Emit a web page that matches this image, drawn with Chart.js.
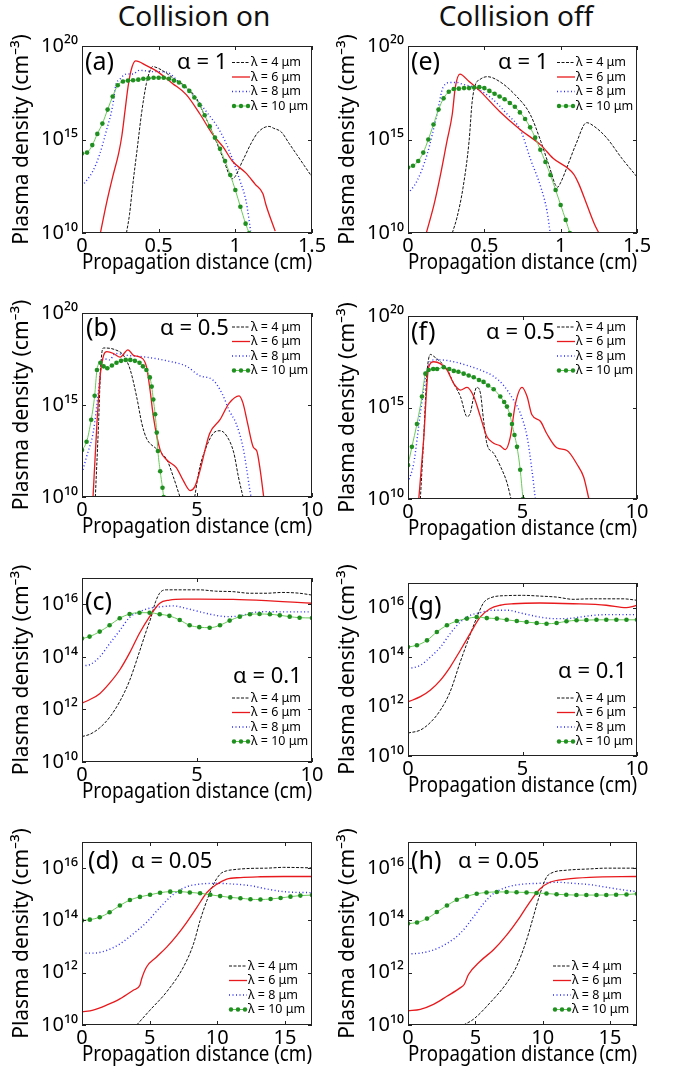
<!DOCTYPE html>
<html>
<head>
<meta charset="utf-8">
<script src="https://cdn.jsdelivr.net/npm/chart.js@4.4.0/dist/chart.umd.min.js"></script>
<style>
body { margin: 0; background: #fff; width: 678px; height: 1078px; position: relative; overflow: hidden; font-family: 'Noto Sans', sans-serif; }
.ttl { position: absolute; font-size: 28px; color: #111; transform: translateX(-50%); white-space: nowrap; }
canvas { position: absolute; }
</style>
</head>
<body>
<div class="ttl" style="left:194px;top:-4px">Collision on</div>
<div class="ttl" style="left:516px;top:-4px">Collision off</div>
<canvas id="pa"></canvas><canvas id="pe"></canvas>
<canvas id="pb"></canvas><canvas id="pf"></canvas>
<canvas id="pc"></canvas><canvas id="pg"></canvas>
<canvas id="pd"></canvas><canvas id="ph"></canvas>
<script>
// each point: [propagation distance (cm), log10 of plasma density (cm^-3)]
// null = curve leaves the plot (below 1e10)

// (a) collision on, alpha = 1
const a4 = [[0.29,10],[0.31,11],[0.33,12.5],[0.36,14.5],[0.39,16.5],[0.42,18],[0.44,18.6],[0.46,18.9],[0.5,18.8],[0.55,18.55],[0.6,18.25],[0.68,17.8],[0.75,17.15],[0.79,16.45],[0.85,15.4],[0.92,14.0],[0.98,12.9],[1.05,13.9],[1.1,14.75],[1.15,15.4],[1.22,15.7],[1.25,15.6],[1.3,15.4],[1.35,14.8],[1.4,14.2],[1.45,13.6],[1.5,13.0]];
const a6 = [[0.12,10],[0.16,11.6],[0.2,13],[0.24,14.3],[0.26,15.2],[0.28,16.5],[0.3,17.8],[0.32,18.7],[0.35,19.2],[0.42,18.95],[0.485,18.67],[0.59,18.0],[0.68,17.4],[0.77,16.35],[0.85,15.3],[0.92,14.6],[0.98,13.85],[1.07,13.2],[1.13,12.6],[1.18,12.1],[1.2,11.5],[1.26,10.1]];
const a8 = [[0,12.5],[0.07,13.3],[0.115,14.2],[0.16,15.5],[0.2,16.8],[0.22,17.9],[0.245,18.2],[0.29,18.5],[0.33,18.5],[0.375,18.7],[0.46,18.63],[0.55,18.6],[0.64,18.0],[0.72,17.4],[0.81,16.5],[0.9,15.45],[0.96,14.4],[1.03,12.8],[1.07,11.7],[1.1,10.1]];
const a10 = [[0,14.25],[0.033,14.3],[0.067,14.7],[0.1,15.3],[0.133,15.85],[0.167,16.6],[0.2,17.3],[0.233,17.9],[0.267,18.1],[0.3,18.15],[0.333,18.17],[0.367,18.2],[0.4,18.25],[0.433,18.27],[0.467,18.3],[0.5,18.3],[0.533,18.3],[0.567,18.25],[0.6,18.15],[0.633,18.05],[0.667,17.85],[0.7,17.6],[0.733,17.25],[0.767,16.85],[0.8,16.3],[0.833,15.7],[0.867,15.1],[0.9,14.5],[0.933,13.85],[0.967,13.1],[1.0,12.3],[1.033,11.4],[1.067,10.5],[1.09,10.0]];

// (e) collision off, alpha = 1
const e4 = [[0.29,10],[0.32,10.8],[0.36,12.4],[0.4,14.9],[0.42,17.0],[0.44,17.9],[0.47,18.2],[0.52,18.36],[0.6,18.1],[0.7,17.4],[0.8,16.35],[0.87,14.9],[0.92,13.7],[0.98,12.45],[1.0,12.7],[1.05,13.7],[1.1,14.75],[1.17,15.9],[1.22,15.7],[1.3,15.1],[1.4,14.0],[1.5,13.0]];
const e6 = [[0.12,10],[0.17,11.5],[0.21,13.0],[0.255,14.9],[0.29,16.35],[0.31,17.8],[0.34,18.5],[0.4,18.1],[0.47,17.6],[0.6,16.5],[0.74,15.5],[0.87,14.7],[0.95,14.0],[1.085,13.15],[1.12,12.6],[1.17,11.55],[1.22,10.5],[1.25,10]];
const e8 = [[0,12.1],[0.06,12.8],[0.125,14.2],[0.19,16.35],[0.23,17.8],[0.28,18.05],[0.32,18.05],[0.36,17.95],[0.43,17.8],[0.54,17.25],[0.65,16.35],[0.74,15.45],[0.8,14.0],[0.87,12.45],[0.91,11.2],[0.93,10.1]];
const e10 = [[0,13.5],[0.033,13.6],[0.067,13.85],[0.1,14.3],[0.133,15.0],[0.167,15.8],[0.2,16.6],[0.233,17.2],[0.267,17.55],[0.3,17.7],[0.333,17.72],[0.367,17.75],[0.4,17.75],[0.433,17.78],[0.467,17.8],[0.5,17.75],[0.533,17.6],[0.567,17.45],[0.6,17.3],[0.633,17.15],[0.667,16.95],[0.7,16.75],[0.733,16.45],[0.767,16.1],[0.8,15.65],[0.833,15.1],[0.867,14.45],[0.9,13.8],[0.933,13.1],[0.967,12.3],[1.0,11.5],[1.033,10.7],[1.06,10.0]];

// (b) collision on, alpha = 0.5
const b4 = [[0.58,10],[0.72,14.0],[0.8,16.7],[0.87,17.9],[0.94,18.1],[1.45,18.0],[1.8,17.7],[2.1,16.9],[2.4,15.3],[2.6,14.0],[2.8,13.2],[3.25,12.6],[3.7,12.0],[3.97,11.1],[4.26,10],[4.6,null],[4.9,10],[5.1,11.5],[5.4,12.7],[5.7,13.45],[6.0,13.6],[6.3,13.3],[6.6,12.4],[6.8,11.1],[7.0,10]];
const b6 = [[0.48,10],[0.65,14],[0.8,16.7],[0.94,17.7],[1.08,17.9],[1.37,17.8],[1.66,17.6],[2.0,18.0],[2.24,17.7],[2.53,17.6],[2.8,17.1],[2.96,15.8],[3.1,14.4],[3.4,12.55],[3.7,12.0],[4.1,11.6],[4.4,10.9],[4.7,10.35],[4.9,10.55],[5.1,11.3],[5.55,13.45],[6.0,14.2],[6.4,15.1],[6.83,15.5],[7.0,15.1],[7.2,14.0],[7.45,12.7],[7.6,12.5],[7.75,11.45],[7.9,10]];
const b8 = [[0,11.3],[0.2,12.2],[0.5,13.6],[0.72,15.8],[0.87,17.45],[1.0,17.5],[1.2,17.45],[1.45,17.8],[1.95,17.7],[2.8,17.6],[3.7,17.4],[4.55,17.1],[5.1,16.6],[5.7,16.35],[6.1,15.6],[6.4,14.7],[6.7,14.0],[7.0,12.7],[7.15,11.6],[7.3,10.35],[7.35,10]];
const b10 = [[0,12.55],[0.2,13.0],[0.4,14.2],[0.55,15.5],[0.65,16.9],[0.8,17.3],[0.94,17.1],[1.1,17.0],[1.3,17.15],[1.5,17.3],[1.7,17.4],[1.9,17.45],[2.1,17.45],[2.3,17.4],[2.5,17.3],[2.65,17.1],[2.8,16.9],[2.95,16.5],[3.03,16.0],[3.1,15.3],[3.18,14.5],[3.25,13.5],[3.3,12.5],[3.4,11.4],[3.5,10.5],[3.55,10]];

// (f) collision off, alpha = 0.5
const f4 = [[0.54,10],[0.68,13.2],[0.83,16.9],[0.98,17.9],[1.12,17.8],[1.41,17.5],[1.7,17.1],[2.0,16.3],[2.29,15.6],[2.58,14.5],[2.72,14.7],[2.87,15.6],[3.0,16.1],[3.16,15.8],[3.3,14.3],[3.45,13.0],[3.74,12.5],[4.03,11.8],[4.32,10.9],[4.5,10]];
const f6 = [[0.47,10],[0.68,13.2],[0.9,17.2],[1.12,17.5],[1.41,17.4],[1.7,17.05],[2.0,16.3],[2.29,15.95],[2.58,16.1],[2.87,15.6],[3.16,14.5],[3.45,13.4],[3.74,13.05],[4.03,12.9],[4.25,12.7],[4.47,13.4],[4.69,15.2],[4.98,16.1],[5.2,15.6],[5.41,14.6],[5.78,14.25],[6.07,13.55],[6.5,12.8],[6.94,12.65],[7.38,11.9],[7.67,11.2],[7.9,10]];
const f8 = [[0,10.9],[0.25,11.95],[0.54,14.7],[0.83,17.05],[1.12,17.6],[1.41,17.6],[2.0,17.5],[2.58,17.3],[3.16,17.05],[3.74,16.7],[4.18,16.2],[4.61,15.4],[4.9,14.7],[5.2,13.4],[5.41,11.6],[5.56,10]];
const f10 = [[0,11.85],[0.17,12.85],[0.39,14.1],[0.61,15.6],[0.76,16.85],[0.9,17.05],[1.1,17.1],[1.27,17.1],[1.56,17.2],[1.8,17.1],[2.0,17.0],[2.2,16.95],[2.43,16.85],[2.65,16.75],[2.87,16.65],[3.1,16.5],[3.3,16.4],[3.5,16.2],[3.74,16.0],[4.03,15.6],[4.2,15.3],[4.32,15.05],[4.45,14.6],[4.54,14.1],[4.65,13.5],[4.76,12.85],[4.9,11.6],[5.02,10]];

// (c) collision on, alpha = 0.1
const c4 = [[0,10.97],[0.33,11.05],[0.77,11.3],[1.2,11.7],[1.64,12.3],[2.07,13.1],[2.5,14.2],[2.8,15.0],[3.0,15.5],[3.2,16.1],[3.4,16.45],[3.67,16.55],[4.4,16.55],[5.1,16.55],[5.8,16.5],[6.57,16.48],[7.3,16.42],[8.0,16.42],[8.7,16.45],[9.46,16.42],[10,16.35]];
const c6 = [[0,12.24],[0.33,12.37],[0.77,12.6],[1.2,13.0],[1.64,13.5],[2.07,14.15],[2.5,14.9],[2.94,15.53],[3.38,16.04],[3.8,16.16],[4.4,16.2],[5.1,16.2],[6.57,16.19],[8.0,16.14],[9.17,16.08],[10,16.04]];
const c8 = [[0,13.66],[0.33,13.7],[0.77,14.0],[1.2,14.5],[1.64,15.0],[2.07,15.5],[2.5,15.72],[2.94,15.85],[3.38,15.9],[3.96,15.94],[4.5,15.85],[5.1,15.72],[5.7,15.6],[6.27,15.53],[6.86,15.56],[7.4,15.68],[8.0,15.72],[8.87,15.71],[10,15.71]];
const c10 = [[0,14.7],[0.33,14.77],[0.77,14.96],[1.2,15.2],[1.64,15.47],[2.07,15.63],[2.5,15.68],[2.94,15.68],[3.38,15.62],[3.8,15.56],[4.25,15.4],[4.68,15.2],[5.1,15.13],[5.55,15.11],[6.0,15.2],[6.42,15.38],[6.86,15.53],[7.3,15.62],[7.72,15.63],[8.17,15.62],[8.6,15.58],[9.03,15.53],[9.46,15.49],[10,15.48]];

// (g) collision off, alpha = 0.1
const g4 = [[0,10.93],[0.54,11.05],[0.97,11.35],[1.41,11.85],[1.84,12.6],[2.28,13.8],[2.71,14.9],[3.0,15.6],[3.3,16.2],[3.6,16.4],[4.31,16.49],[5.04,16.5],[5.76,16.47],[6.49,16.43],[7.21,16.34],[7.94,16.36],[8.66,16.36],[9.39,16.36],[10,16.3]];
const g6 = [[0,12.19],[0.54,12.4],[0.97,12.66],[1.41,13.06],[1.84,13.6],[2.28,14.27],[2.71,14.95],[3.15,15.62],[3.58,15.96],[4.02,16.1],[4.6,16.16],[5.76,16.19],[7.21,16.16],[8.66,16.1],[9.53,16.0],[9.83,16.05],[10,16.1]];
const g8 = [[0,13.53],[0.54,13.67],[0.97,14.0],[1.41,14.4],[1.84,14.95],[2.28,15.42],[2.71,15.69],[3.15,15.8],[3.73,15.9],[4.31,15.9],[5.04,15.76],[5.76,15.62],[6.34,15.56],[6.92,15.56],[7.5,15.62],[8.08,15.69],[8.66,15.72],[9.39,15.72],[10,15.72]];
const g10 = [[0,14.41],[0.39,14.48],[0.83,14.68],[1.26,15.02],[1.7,15.29],[2.13,15.46],[2.57,15.56],[3.0,15.62],[3.44,15.58],[3.88,15.56],[4.31,15.51],[4.75,15.46],[5.18,15.42],[5.62,15.38],[6.05,15.35],[6.49,15.38],[6.92,15.45],[7.36,15.49],[7.79,15.5],[8.23,15.51],[8.66,15.51],[9.1,15.51],[9.54,15.51],[10,15.51]];

// (d) collision on, alpha = 0.05
const d4 = [[4.04,10],[5.03,10.57],[6.26,11.27],[7.5,12.22],[8.24,13.1],[8.73,14.0],[9.23,14.76],[9.73,15.39],[10.21,15.77],[10.7,15.9],[11.18,15.94],[12.45,15.99],[13.68,16.0],[14.88,16.03],[17,16.01]];
const d6 = [[0,10.5],[0.82,10.57],[1.81,10.76],[2.8,11.0],[3.79,11.33],[4.28,11.52],[4.41,11.77],[4.77,12.22],[5.51,12.6],[6.26,12.98],[7.0,13.42],[7.74,13.93],[8.49,14.5],[9.23,15.07],[9.98,15.39],[10.7,15.58],[11.71,15.64],[13.19,15.67],[14.92,15.68],[17,15.68]];
const d8 = [[0,12.75],[0.82,12.75],[1.81,12.85],[2.8,13.1],[3.79,13.49],[4.77,13.93],[5.77,14.5],[6.76,15.0],[7.74,15.29],[8.73,15.39],[9.98,15.42],[11.18,15.39],[12.45,15.33],[13.68,15.2],[14.92,15.1],[17,15.06]];
const d10 = [[0,14.0],[0.58,14.03],[1.31,14.12],[2.04,14.31],[2.8,14.57],[3.54,14.78],[4.28,14.9],[5.03,14.98],[5.77,15.06],[6.52,15.1],[7.25,15.1],[7.97,15.07],[8.73,15.04],[9.48,14.98],[10.21,14.93],[10.96,14.88],[11.71,14.85],[12.45,14.81],[13.19,14.8],[13.94,14.82],[14.68,14.86],[15.41,14.91],[16.14,14.95],[17,14.97]];

// (h) collision off, alpha = 0.05
const h4 = [[4.12,10],[4.86,10.22],[6.09,10.85],[7.32,11.6],[8.06,12.24],[8.8,13.25],[9.3,14.13],[9.79,15.0],[10.28,15.65],[10.78,15.84],[11.75,15.92],[13.48,15.97],[14.72,16.0],[17,16.0]];
const h6 = [[0,10.54],[0.91,10.6],[1.89,10.79],[2.89,11.1],[3.87,11.42],[4.17,11.55],[4.49,11.93],[5.34,12.43],[6.33,12.87],[7.32,13.44],[8.31,14.13],[9.04,14.7],[9.79,15.2],[10.53,15.46],[11.75,15.58],[13.48,15.65],[17,15.68]];
const h8 = [[0,12.72],[0.91,12.75],[1.89,12.87],[2.89,13.12],[3.87,13.5],[4.86,14.13],[5.6,14.64],[6.33,15.02],[7.32,15.27],[8.55,15.39],[9.79,15.42],[11.03,15.46],[12.24,15.42],[13.48,15.37],[14.72,15.27],[15.93,15.17],[17,15.1]];
const h10 = [[0,13.88],[0.67,13.92],[1.41,14.07],[2.14,14.32],[2.89,14.57],[3.62,14.79],[4.37,14.92],[5.1,15.02],[5.83,15.07],[6.59,15.09],[7.32,15.09],[8.06,15.08],[8.8,15.07],[9.54,15.05],[10.28,15.03],[11.03,15.0],[11.75,14.98],[12.5,14.97],[13.24,14.97],[13.99,14.97],[14.72,14.97],[15.45,14.98],[16.22,14.99],[17,15.02]];

// tick values
const xTicksShort = [0, 0.5, 1, 1.5];
const xTicksMid = [0, 5, 10];
const xTicksLong = [0, 5, 10, 15];
const yTicksWide = [10, 15, 20];     // exponents
const yTicksNarrow = [10, 12, 14, 16];
const legendLabels = ['λ = 4 μm', 'λ = 6 μm', 'λ = 8 μm', 'λ = 10 μm'];

const panels = [
    { id: 'a', curves: [a4, a6, a8, a10], xMax: 1.5, xTicks: xTicksShort, yMax: 20, yTicks: yTicksWide, alpha: 'α = 1' },
    { id: 'e', curves: [e4, e6, e8, e10], xMax: 1.5, xTicks: xTicksShort, yMax: 20, yTicks: yTicksWide, alpha: 'α = 1' },
    { id: 'b', curves: [b4, b6, b8, b10], xMax: 10, xTicks: xTicksMid, yMax: 20, yTicks: yTicksWide, alpha: 'α = 0.5' },
    { id: 'f', curves: [f4, f6, f8, f10], xMax: 10, xTicks: xTicksMid, yMax: 20, yTicks: yTicksWide, alpha: 'α = 0.5' },
    { id: 'c', curves: [c4, c6, c8, c10], xMax: 10, xTicks: xTicksMid, yMax: 17, yTicks: yTicksNarrow, alpha: 'α = 0.1' },
    { id: 'g', curves: [g4, g6, g8, g10], xMax: 10, xTicks: xTicksMid, yMax: 17, yTicks: yTicksNarrow, alpha: 'α = 0.1' },
    { id: 'd', curves: [d4, d6, d8, d10], xMax: 17, xTicks: xTicksLong, yMax: 17, yTicks: yTicksNarrow, alpha: 'α = 0.05' },
    { id: 'h', curves: [h4, h6, h8, h10], xMax: 17, xTicks: xTicksLong, yMax: 17, yTicks: yTicksNarrow, alpha: 'α = 0.05' }
];

// page layout: plot box, panel letter, alpha label, legend (first row y)
const layout = {
    a: { l: 82, t: 46, r: 312, b: 233, letter: [85, 63], alpha: [177, 63], leg: [232, 62.5] },
    e: { l: 408, t: 46, r: 637, b: 233, letter: [411, 63], alpha: [498, 63], leg: [557, 62.5] },
    b: { l: 82, t: 313, r: 312, b: 497, letter: [86, 329], alpha: [160, 329], leg: [232, 327] },
    f: { l: 408, t: 316, r: 637, b: 499, letter: [411, 333], alpha: [486, 333], leg: [557, 327] },
    c: { l: 82, t: 578, r: 312, b: 762, letter: [85, 603], alpha: [233, 677], leg: [232, 698] },
    g: { l: 408, t: 583, r: 637, b: 756, letter: [411, 607], alpha: [558, 672], leg: [557, 698] },
    d: { l: 82, t: 842, r: 312, b: 1025, letter: [88, 862], alpha: [131, 862], leg: [229, 966] },
    h: { l: 408, t: 842, r: 637, b: 1025, letter: [411, 862], alpha: [458, 862], leg: [553, 966] }
};

const styles = [
    { borderColor: '#111', borderWidth: 1, borderDash: [3, 1.5], pointRadius: 0, order: 2 },
    { borderColor: '#e8191c', borderWidth: 1.3, pointRadius: 0, order: 1 },
    { borderColor: '#2a2aff', borderWidth: 1.4, borderDash: [1, 2.5], pointRadius: 0, order: 3 },
    { borderColor: '#6acb5a', borderWidth: 1, pointRadius: 2.3, pointBackgroundColor: '#1f8f1f', pointBorderWidth: 0, order: 0 }
];

Chart.defaults.font.family = "'Noto Sans', sans-serif";
Chart.defaults.color = '#000';

const SUP = { '0': '⁰', '1': '¹', '2': '²', '3': '³', '4': '⁴', '5': '⁵', '6': '⁶', '7': '⁷', '8': '⁸', '9': '⁹' };
function powLabel(v) {
    const e = String(Math.round(Math.log10(v)));
    return '10' + e.split('').map(c => SUP[c]).join('');
}

// frame with inward ticks, panel labels and legend inside the plot
const framePlugin = {
    id: 'frame',
    afterDatasetsDraw(chart) {
        const { ctx, chartArea: a, scales } = chart;
        const p = chart.options.plugins.frame;
        const box = layout[p.id];
        const ox = p.ox, oy = p.oy;
        ctx.save();
        ctx.strokeStyle = '#222';
        ctx.lineWidth = 1;
        ctx.setLineDash([]);
        ctx.strokeRect(Math.round(a.left) + 0.5, Math.round(a.top) + 0.5, Math.round(a.width) - 1, Math.round(a.height) - 1);
        ctx.beginPath();
        scales.y.ticks.forEach(t => {
            const y = Math.round(scales.y.getPixelForValue(t.value)) + 0.5;
            ctx.moveTo(a.left, y); ctx.lineTo(a.left + 4, y);
            ctx.moveTo(a.right, y); ctx.lineTo(a.right - 4, y);
        });
        scales.x.ticks.forEach(t => {
            const x = Math.round(scales.x.getPixelForValue(t.value)) + 0.5;
            ctx.moveTo(x, a.bottom); ctx.lineTo(x, a.bottom - 4);
            ctx.moveTo(x, a.top); ctx.lineTo(x, a.top + 4);
        });
        ctx.stroke();

        ctx.fillStyle = '#000';
        ctx.textBaseline = 'middle';
        ctx.textAlign = 'left';
        ctx.font = "25px 'Noto Sans'";
        ctx.fillText('(' + p.id + ')', box.letter[0] - ox, box.letter[1] - oy);
        ctx.font = "22px 'Noto Sans'";
        ctx.fillText(p.alpha, box.alpha[0] - ox, box.alpha[1] - oy);

        // legend
        const lx = box.leg[0] - ox;
        ctx.font = "12.5px 'Noto Sans'";
        for (let i = 0; i < 4; i++) {
            const y = box.leg[1] - oy + i * 14.5;
            const s = styles[i];
            ctx.strokeStyle = s.borderColor;
            ctx.lineWidth = s.borderWidth;
            ctx.setLineDash(s.borderDash || []);
            ctx.beginPath();
            ctx.moveTo(lx, y); ctx.lineTo(lx + 18, y);
            ctx.stroke();
            if (s.pointRadius) {
                ctx.fillStyle = s.pointBackgroundColor;
                [2, 9, 16].forEach(dx => {
                    ctx.beginPath();
                    ctx.arc(lx + dx, y, 2.2, 0, Math.PI * 2);
                    ctx.fill();
                });
            }
            ctx.setLineDash([]);
            ctx.fillStyle = '#000';
            ctx.fillText(legendLabels[i], lx + 19, y);
        }
        ctx.restore();
    }
};

panels.forEach(function(p) {
    const box = layout[p.id];
    const leftCol = box.l < 200;
    const ox = leftCol ? 0 : 335;
    const oy = box.t - 18;
    const w = leftCol ? 335 : 343;
    const h = box.b + 43 - oy;
    const canvas = document.getElementById('p' + p.id);
    canvas.width = w;
    canvas.height = h;
    canvas.style.left = ox + 'px';
    canvas.style.top = oy + 'px';

    new Chart(canvas, {
        type: 'line',
        data: {
            datasets: p.curves.map((c, i) => Object.assign({
                data: c.map(pt => ({ x: pt[0], y: pt[1] === null ? null : Math.pow(10, pt[1]) })),
                cubicInterpolationMode: 'monotone',
                fill: false
            }, styles[i]))
        },
        options: {
            responsive: false,
            animation: false,
            devicePixelRatio: 1,
            layout: { padding: { top: box.t - oy, right: ox + w - box.r, left: 0, bottom: 0 } },
            plugins: {
                legend: { display: false },
                tooltip: { enabled: false },
                frame: { id: p.id, alpha: p.alpha, ox: ox, oy: oy }
            },
            scales: {
                x: {
                    type: 'linear', min: 0, max: p.xMax,
                    afterBuildTicks: s => { s.ticks = p.xTicks.map(v => ({ value: v })); },
                    afterFit: s => { s.height = h - (box.b - oy); },
                    grid: { display: false, drawTicks: false },
                    border: { display: false },
                    ticks: { padding: 1, autoSkip: false, maxRotation: 0, font: { size: 20 }, callback: v => String(v) },
                    title: { display: true, text: 'Propagation distance (cm)', font: { size: 21 }, padding: { top: 0, bottom: 0 } }
                },
                y: {
                    type: 'logarithmic', min: 1e10, max: Math.pow(10, p.yMax),
                    afterBuildTicks: s => { s.ticks = p.yTicks.map(e => ({ value: Math.pow(10, e) })); },
                    afterFit: s => { s.width = box.l - ox; },
                    grid: { display: false, drawTicks: false },
                    border: { display: false },
                    ticks: { padding: 4, autoSkip: false, font: { size: 20 }, callback: v => powLabel(v) },
                    title: { display: true, text: 'Plasma density (cm⁻³)', font: { size: 21 }, padding: leftCol ? 9 : 0 }
                }
            }
        },
        plugins: [framePlugin]
    });
});
</script>
</body>
</html>
